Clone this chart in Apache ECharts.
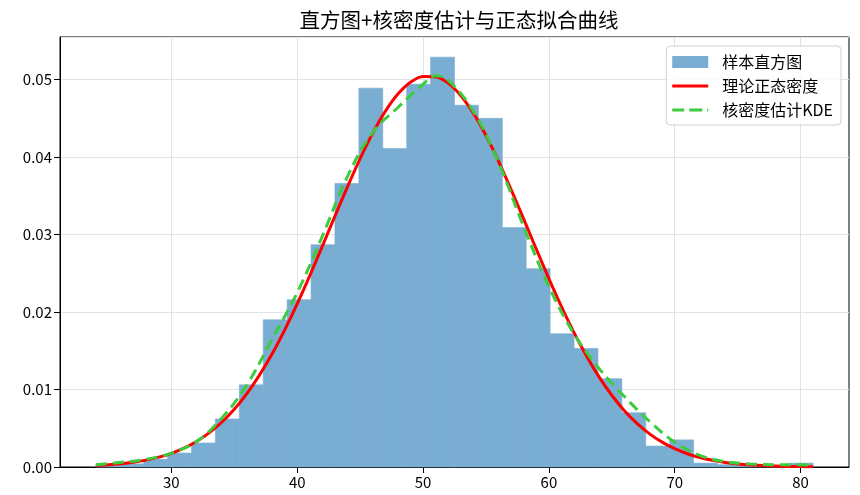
<!DOCTYPE html>
<html>
<head>
<meta charset="utf-8">
<script src="https://cdn.jsdelivr.net/npm/echarts@6/dist/echarts.min.js"></script>
<style>
html,body{margin:0;padding:0;background:#fff;}
#chart{width:860px;height:495px;}
</style>
</head>
<body>
<div id="chart"></div>
<script>
// Histogram bins (edges) and densities
const binEdges = [24.0,25.9,27.8,29.7,31.6,33.5,35.4,37.3,39.2,41.1,43.0,44.9,46.8,48.7,50.6,52.5,54.4,56.3,58.2,60.1,62.0,63.9,65.8,67.7,69.6,71.5,73.4,75.3,77.2,79.1,81.0];
const binDensity = [0.0002,0.0004,0.0010,0.0018,0.0031,0.0062,0.0106,0.0190,0.0216,0.0287,0.0366,0.0489,0.0411,0.0494,0.0529,0.0467,0.0450,0.0309,0.0256,0.0172,0.0153,0.0114,0.0070,0.0027,0.0035,0.0005,0.0003,0.0002,0.0002,0.0005];

// Theoretical normal density curve
const normalX = [24,25,26,27,28,29,30,31,32,33,34,35,36,37,38,39,40,41,42,43,44,45,46,47,48,49,50,51,52,53,54,55,56,57,58,59,60,61,62,63,64,65,66,67,68,69,70,71,72,73,74,75,76,77,78,79,80,81];
const normalY = [0.00019,0.00028,0.00042,0.00062,0.00089,0.00127,0.00177,0.00244,0.00330,0.00440,0.00578,0.00746,0.00948,0.01186,0.01458,0.01767,0.02105,0.02469,0.02850,0.03237,0.03618,0.03980,0.04309,0.04590,0.04813,0.04966,0.05040,0.05038,0.04954,0.04793,0.04565,0.04278,0.03946,0.03581,0.03199,0.02811,0.02432,0.02071,0.01734,0.01430,0.01160,0.00926,0.00727,0.00563,0.00428,0.00321,0.00236,0.00171,0.00122,0.00086,0.00059,0.00040,0.00027,0.00018,0.00012,0.00007,0.00005,0.00003];

// Kernel density estimate curve
const kdeX = [24,26,28,30,32,34,36,38,40,42,44,46,48,50,51,52,54,56,58,60,62,64,66,68,70,72,74,76,78,80,81];
const kdeY = [0.0003,0.0006,0.0010,0.0018,0.0033,0.0063,0.0106,0.0165,0.0225,0.0298,0.0375,0.0432,0.0464,0.0494,0.0505,0.0499,0.0459,0.0393,0.0310,0.0233,0.0172,0.0127,0.0091,0.0059,0.0032,0.0015,0.0007,0.0004,0.0003,0.0003,0.0002];

const xTicks = [30,40,50,60,70,80];
const seriesNames = ['样本直方图','理论正态密度','核密度估计KDE'];
const titleText = '直方图+核密度估计与正态拟合曲线';

const histData = binDensity.map((d,i)=>[binEdges[i], binEdges[i+1], d]);
const normalData = normalX.map((x,i)=>[x, normalY[i]]);
const kdeData = kdeX.map((x,i)=>[x, kdeY[i]]);

const BAR_COLOR = 'rgb(121,173,210)';
const FONT = '"Noto Sans CJK SC", "Noto Sans", sans-serif';
const chart = echarts.init(document.getElementById('chart'), null, {renderer:'canvas'});
chart.setOption({
  animation:false,
  backgroundColor:'#fff',
  title:{
    text:titleText, left:454, top:5, textAlign:'center',
    textStyle:{fontFamily:FONT, fontSize:20.5, fontWeight:'normal', color:'#000'}
  },
  grid:{left:60, right:11, top:37, bottom:28, show:true, borderColor:'#000', borderWidth:1, backgroundColor:'transparent'},
  legend:{
    orient:'vertical', right:19, top:46,
    padding:[8,8,7,6], itemGap:8, itemWidth:36, itemHeight:12,
    backgroundColor:'rgba(255,255,255,0.8)', borderColor:'#d0d0d0', borderWidth:1, borderRadius:4,
    textStyle:{fontFamily:FONT, fontSize:16, color:'#000', padding:[0,0,0,9]},
    data:[
      {name:seriesNames[0], icon:'rect', itemStyle:{color:BAR_COLOR}},
      {name:seriesNames[1], icon:'path://M0,0h36v3h-36z', itemStyle:{color:'#ff0000'}},
      {name:seriesNames[2], icon:'path://M0,0h12v3h-12z M17,0h13v3h-13z M35,0h1v3h-1z', itemStyle:{color:'#3dcc3d'}}
    ]
  },
  xAxis:{
    type:'value', min:21.15, max:83.85,
    axisLine:{show:true, onZero:false, lineStyle:{color:'#000', width:1}},
    axisTick:{show:true, length:6, customValues:xTicks, lineStyle:{color:'#000'}},
    axisLabel:{customValues:xTicks, fontFamily:FONT, fontSize:15, color:'#000', margin:8},
    splitLine:{show:true, lineStyle:{color:'#e3e3e3', width:1}}
  },
  yAxis:{
    type:'value', min:0, max:0.0555, interval:0.01,
    axisLine:{show:true, lineStyle:{color:'#000', width:1}},
    axisTick:{show:true, length:6, lineStyle:{color:'#000'}},
    axisLabel:{fontFamily:FONT, fontSize:15, color:'#000', margin:8, showMaxLabel:false,
               formatter:v=>v.toFixed(2)},
    splitLine:{show:true, lineStyle:{color:'#e3e3e3', width:1}}
  },
  series:[
    {
      name:seriesNames[0], type:'custom', data:histData, z:2,
      itemStyle:{color:BAR_COLOR},
      encode:{x:[0,1], y:2},
      renderItem:function(params, api){
        const p0 = api.coord([api.value(0), api.value(2)]);
        const p1 = api.coord([api.value(1), 0]);
        return {type:'rect', shape:{x:p0[0], y:p0[1], width:p1[0]-p0[0], height:p1[1]-p0[1]},
                style:{fill:BAR_COLOR, stroke:BAR_COLOR, lineWidth:0.6}};
      }
    },
    {
      name:seriesNames[1], type:'line', data:normalData, smooth:0.3, symbol:'none', z:4,
      lineStyle:{color:'#ff0000', width:3}, itemStyle:{color:'#ff0000'}
    },
    {
      name:seriesNames[2], type:'line', data:kdeData, smooth:0.4, symbol:'none', z:5,
      lineStyle:{color:'#3dcc3d', width:3, type:[11,6]}, itemStyle:{color:'#3dcc3d'}
    }
  ]
});
</script>
</body>
</html>
